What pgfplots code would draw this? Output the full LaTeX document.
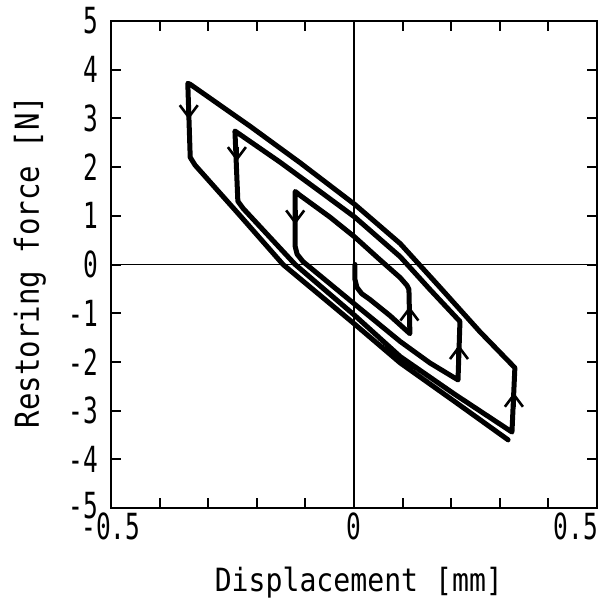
\documentclass[border=0pt]{standalone}
\usepackage{fontspec}
\usepackage{pgfplots}
\pgfplotsset{compat=1.18}
\usetikzlibrary{arrows.meta}
\newfontfamily\labelfont[FakeStretch=0.88]{DejaVu Sans Mono}
\newfontfamily\tickfont[FakeStretch=0.68]{DejaVu Sans Mono}

% one continuous record: starts at the origin and spirals out over three loops
\pgfplotstableread{
x y
0.002 0.00
0.002 -0.31
0.006 -0.47
0.016 -0.60
0.033 -0.72
0.074 -1.05
0.115 -1.42
0.113 -0.51
0.109 -0.43
0.095 -0.27
0.053 0.10
0.002 0.56
-0.049 0.97
-0.111 1.42
-0.121 1.50
-0.121 0.37
-0.117 0.21
-0.105 0.06
0.002 -0.82
0.095 -1.58
0.156 -2.02
0.214 -2.37
0.218 -1.17
0.156 -0.51
0.095 0.16
0.002 0.97
-0.070 1.50
-0.152 2.10
-0.239 2.70
-0.245 2.74
-0.239 1.30
-0.228 1.15
-0.121 0.00
0.002 -1.05
0.095 -1.89
0.208 -2.67
0.325 -3.44
0.331 -2.12
0.259 -1.38
0.177 -0.47
0.095 0.43
0.002 1.23
-0.111 2.09
-0.214 2.84
-0.337 3.70
-0.342 3.72
-0.337 2.20
-0.327 2.04
-0.235 1.01
-0.146 0.00
0.002 -1.23
0.095 -2.02
0.208 -2.82
0.317 -3.60
}\loopdata

% direction arrows on the vertical parts
\pgfplotstableread{
x y u v
-0.340 3.28 0 -0.3
-0.241 2.42 0 -0.3
-0.121 1.12 0 -0.3
0.114 -1.16 0 0.3
0.216 -1.95 0 0.3
0.329 -2.93 0 0.3
}\arrowdata

\begin{document}
\begin{tikzpicture}
\begin{axis}[
  name=ax,
  scale only axis,
  width=243pt, height=243.5pt,
  xmin=-0.5, xmax=0.5, ymin=-5, ymax=5,
  xtick={-0.5,0,0.5},
  xticklabels={-0.5,0,\hspace*{-21pt}0.5},
  minor xtick={-0.4,-0.3,-0.2,-0.1,0.1,0.2,0.3,0.4},
  ytick={-5,-4,...,5},
  yticklabels={\raisebox{2.5pt}{-5},-4,-3,-2,-1,0,1,2,3,4,5},
  tick align=inside, tick pos=both,
  major tick length=5pt, minor tick length=5pt,
  tick style={black, line width=1pt},
  axis line style={line width=1pt},
  tick label style={font=\fontsize{18}{20}\tickfont},
  yticklabel style={xshift=-3pt},
  xticklabel style={yshift=1pt},
  xlabel={Displacement [mm]},
  ylabel={Restoring force [N]},
  every axis x label/.style={at={(rel axis cs:0.51,0)}, yshift=-37.5pt, anchor=center,
    font=\fontsize{16}{19}\labelfont},
  every axis y label/.style={at={(rel axis cs:0,0.505)}, xshift=-40.5pt, rotate=90, anchor=center,
    font=\fontsize{16.5}{19}\labelfont},
]
\addplot[black, line width=0.7pt] coordinates {(0,-5) (0,5)};
\addplot[black, line width=0.7pt] coordinates {(-0.5,0) (0.5,0)};
\addplot[black, line width=2.5pt, line join=round, line cap=round] table {\loopdata};
\addplot[black, line width=2.5pt,
  -{Straight Barb[length=6pt, width=9pt, line width=1.3pt]},
  quiver={u=\thisrow{u}, v=\thisrow{v}}] table {\arrowdata};
\end{axis}
\path ([xshift=-55.5pt, yshift=-45.5pt]ax.south west) rectangle ([xshift=7pt, yshift=10.5pt]ax.north east);
\end{tikzpicture}
\end{document}
